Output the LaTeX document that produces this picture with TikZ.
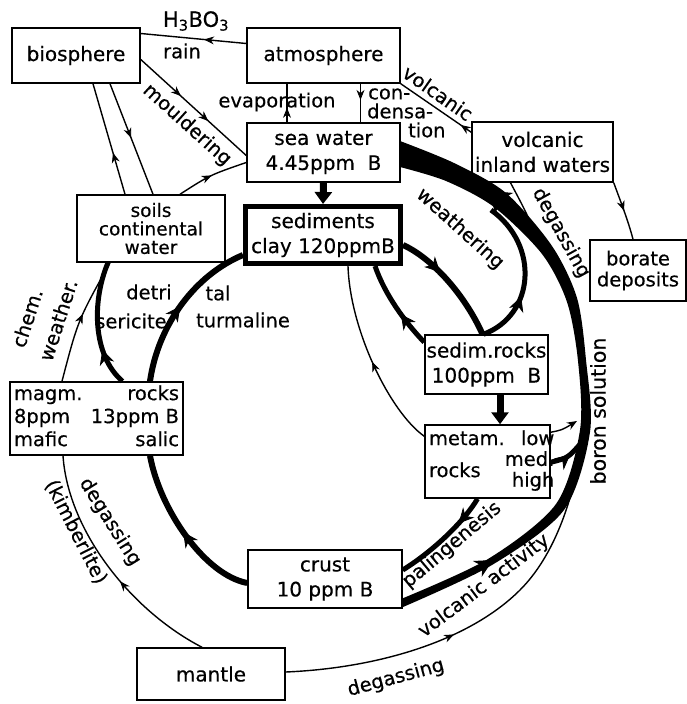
\documentclass[tikz,border=0pt]{standalone}
\usepackage{fontspec}
\setmainfont{DejaVu Sans}[FakeBold=0.4]
\usetikzlibrary{arrows.meta,decorations.markings}
\newcommand\bxfont{\fontsize{20}{25}\selectfont}
\newcommand\lbfont{\fontsize{19.5}{20}\selectfont}
\begin{document}
\begin{tikzpicture}[x=1pt,y=-1pt,
  box/.style={draw, line width=1.5pt, inner sep=0pt, align=center, font=\bxfont},
  lab/.style={inner sep=0pt, font=\lbfont},
  conn/.style={line width=1.4pt},
  fat/.style={line width=#1},
  midarr/.style={postaction={decorate}, decoration={markings, mark=at position #1 with {\arrow[line width=0.8pt]{Stealth[length=10pt,width=8pt]}}}},
  twoarr/.style={postaction={decorate}, decoration={markings, mark=at position 0.38 with {\arrow[line width=0.8pt]{Stealth[length=10pt,width=8pt]}}, mark=at position 0.64 with {\arrow[line width=0.8pt]{Stealth[length=10pt,width=8pt]}}}},
  bigarr/.style={postaction={decorate}, decoration={markings, mark=at position #1 with {\arrow[line width=0.8pt]{Stealth[length=15pt,width=15pt]}}}},
  tipend/.style={-{Triangle[length=12pt,width=17pt]}},
]
\useasboundingbox (0,0) rectangle (687,704);
\fill[white] (0,0) rectangle (687,704);

% boxes
\node[box, minimum width=128pt, minimum height=55pt] (bio) at (76,55.5) {biosphere};
\node[box, minimum width=153pt, minimum height=55pt] (atm) at (323.5,55.5) {atmosphere};
\node[box, minimum width=153pt, minimum height=59pt] (sea) at (323.5,152.5) {sea water\\4.45ppm~~B};
\node[box, line width=5pt, minimum width=155pt, minimum height=57pt] (sed) at (323,235) {sediments\\clay 120ppmB};
\node[box, minimum width=141pt, minimum height=60pt] (volc) at (542.5,152) {volcanic\\inland waters};
\node[box, minimum width=96pt, minimum height=61pt, font=\fontsize{19.5}{21}\selectfont] (bor) at (638,270.5) {borate\\deposits};
\node[box, minimum width=148pt, minimum height=67pt, font=\fontsize{18.5}{18.5}\selectfont] (soil) at (151,228.5) {soils\\continental\\water};
\node[box, minimum width=173pt, minimum height=73pt, font=\fontsize{19.5}{23}\selectfont] (magm) at (96.5,418.5)
  {\begin{tabular*}{165pt}{@{}l@{\extracolsep{\fill}}r@{}}magm. & rocks\\ 8ppm & 13ppm B\\ mafic & salic\end{tabular*}};
\node[box, minimum width=123pt, minimum height=59pt] (sedr) at (486.5,364.5) {sedim.rocks\\100ppm~~B};
\node[box, minimum width=125pt, minimum height=73pt, font=\fontsize{19.5}{20}\selectfont] (meta) at (487.5,461.5)
  {\begin{tabular*}{117pt}{@{}l@{\extracolsep{\fill}}r@{}}metam. & low\\ rocks & \begin{tabular}[c]{@{}r@{}}med.\\high\end{tabular}\end{tabular*}};
\node[box, minimum width=154pt, minimum height=58pt] (crust) at (325,579) {crust\\10 ppm B};
\node[box, minimum width=148pt, minimum height=52pt] (mant) at (211,674) {mantle};

% big band: weathering / boron solution / volcanic activity
\fill plot[smooth] coordinates {(403,607) (492,565) (564,510) (590,432) (586,360) (577,298) (552,246) (506,193) (454,163) (400,141)}
  -- plot[smooth] coordinates {(400,167) (446,181) (494,207) (542,254) (567,302) (578,361) (580,430) (556,504) (488,559) (401,599)} -- cycle;
\draw[-{Stealth[length=20pt,width=28pt]}, line width=1pt] (512,210) -- (489,191);
\draw[-{Stealth[length=18pt,width=18pt]}, line width=1pt] (470,573) -- (493,560);
\coordinate (bandA) at (543,250);
\coordinate (bandB) at (491,210);
\coordinate (bandC) at (580,455);
\coordinate (bandD) at (577,421);
\coordinate (bandE) at (582,442);

% top connectors
\draw[conn, midarr=0.4] ([yshift=12]atm.west) -- ([yshift=22]bio.east);
\draw[conn, twoarr] ([yshift=-4]bio.east) -- ([yshift=-3]sea.west);
\draw[conn, midarr=0.375] ([xshift=-36.5]sea.north) -- ([xshift=-36.5]atm.south);
\draw[conn, midarr=0.42] ([xshift=37]atm.south) -- ([xshift=37]sea.north);
\draw[conn, midarr=0.15] ([yshift=-11]volc.north west) -- (atm.south east);
\draw[conn, midarr=0.5] (volc.south east) .. controls (620,200) and (628,220) .. ([xshift=-5]bor.north);
\draw[conn] ([xshift=-32]volc.south) .. controls (525,210) .. (bandA);

% biosphere / soils
\draw[conn, midarr=0.375] ([xshift=-26]soil.north) -- ([xshift=17]bio.south);
\draw[conn, midarr=0.49] ([xshift=34]bio.south) -- ([xshift=2]soil.north);
\draw[conn, midarr=0.5] ([xshift=29]soil.north) .. controls (210,175) .. ([yshift=-10]sea.west);

% sea -> sediments, sedim.rocks -> metam
\draw[fat=7pt, tipend] (sea.south) -- (sed.north);
\draw[fat=7pt, tipend] ([xshift=13.5]sedr.south) -- ([xshift=12.5]meta.north);

% sediments cycle
\draw[fat=6pt, bigarr=0.38] ([yshift=-10]sed.east) .. controls (432,258) and (465,295) .. ([xshift=-4]sedr.north);
\draw[fat=5pt, bigarr=0.4] ([yshift=-8]sedr.north west) .. controls (405,322) and (385,295) .. ([xshift=52]sed.south);
\draw[conn, midarr=0.48] ([yshift=-12]meta.north west) .. controls (390,412) and (350,330) .. ([xshift=25]sed.south);
\draw[fat=5pt, bigarr=0.36] ([xshift=-3]sedr.north) .. controls (535,315) and (540,245) .. (bandB);

% metam -> boron solution
\draw[conn, -{Stealth[length=10pt,width=8pt]}] ([yshift=-8]meta.north east) .. controls (562,430) .. (bandD);
\draw[fat=5pt, bigarr=0.55] ([yshift=-38]meta.north east) .. controls (568,458) .. (bandE);

% palingenesis
\draw[fat=5pt, bigarr=0.3] ([xshift=-10]meta.south) .. controls (465,520) and (435,550) .. ([yshift=9]crust.east);

% mantle degassing
\draw[conn, midarr=0.43] ([yshift=2]mant.east) .. controls (380,668) and (470,640) .. (520,590) .. controls (555,555) and (572,500) .. (bandC);

% left side
\draw[fat=6pt, bigarr=0.5] ([yshift=-4]crust.west) .. controls (205,575) and (160,510) .. ([xshift=53.5]magm.south);
\draw[conn, midarr=0.43] ([xshift=-9]mant.north) .. controls (130,610) and (68,530) .. ([xshift=-33.5]magm.south);
\draw[conn, midarr=0.55] ([xshift=-34.5]magm.north) .. controls (78,320) .. ([xshift=-41]soil.south);
\draw[fat=5pt, bigarr=0.3] ([xshift=26]magm.north) .. controls (92,355) and (92,300) .. ([xshift=-43]soil.south);
\draw[fat=6pt, bigarr=0.5] ([xshift=53.5]magm.north) .. controls (158,325) and (195,275) .. ([yshift=-20]sed.west);

% labels
\node[lab, font=\fontsize{21}{22}\selectfont] (h3bo3) at (196,21) {H\textsubscript{3}BO\textsubscript{3}};
\node[lab] (rain) at (182,51) {rain};
\node[lab] (evap) at (277,102) {evaporation};
\node[lab, anchor=west] (cond1) at (368,94) {con-};
\node[lab, anchor=west] (cond2) at (367,111) {densa-};
\node[lab, anchor=west] (cond3) at (408,130) {tion};
\node[lab, rotate=-35] (volcl) at (438,93) {volcanic};
\node[lab, rotate=-42] (mould) at (187,125) {mouldering};
\node[lab, rotate=-42] (weath) at (460,229) {weathering};
\node[lab, rotate=-61] (degas1) at (561,233) {degassing};
\node[lab, rotate=90, font=\fontsize{20.5}{21}\selectfont] (boron) at (598,411) {boron solution};
\node[lab, rotate=40] (paling) at (452,545) {palingenesis};
\node[lab, rotate=37] (volcact) at (484,586) {volcanic activity};
\node[lab, rotate=15] (degas2) at (396,678) {degassing};
\node[lab, rotate=-58] (degas3) at (110,522) {degassing};
\node[lab, rotate=-63] (kimb) at (76,532) {(kimberlite)};
\node[lab, rotate=72] (chem) at (27,318) {chem.};
\node[lab, rotate=72] (weather) at (58,320) {weather.};
\node[lab] (detri) at (149,292) {detri};
\node[lab] (tal) at (218,293) {tal};
\node[lab] (seric) at (131,321) {sericite};
\node[lab] (turm) at (243,320) {turmaline};
\end{tikzpicture}
\end{document}
